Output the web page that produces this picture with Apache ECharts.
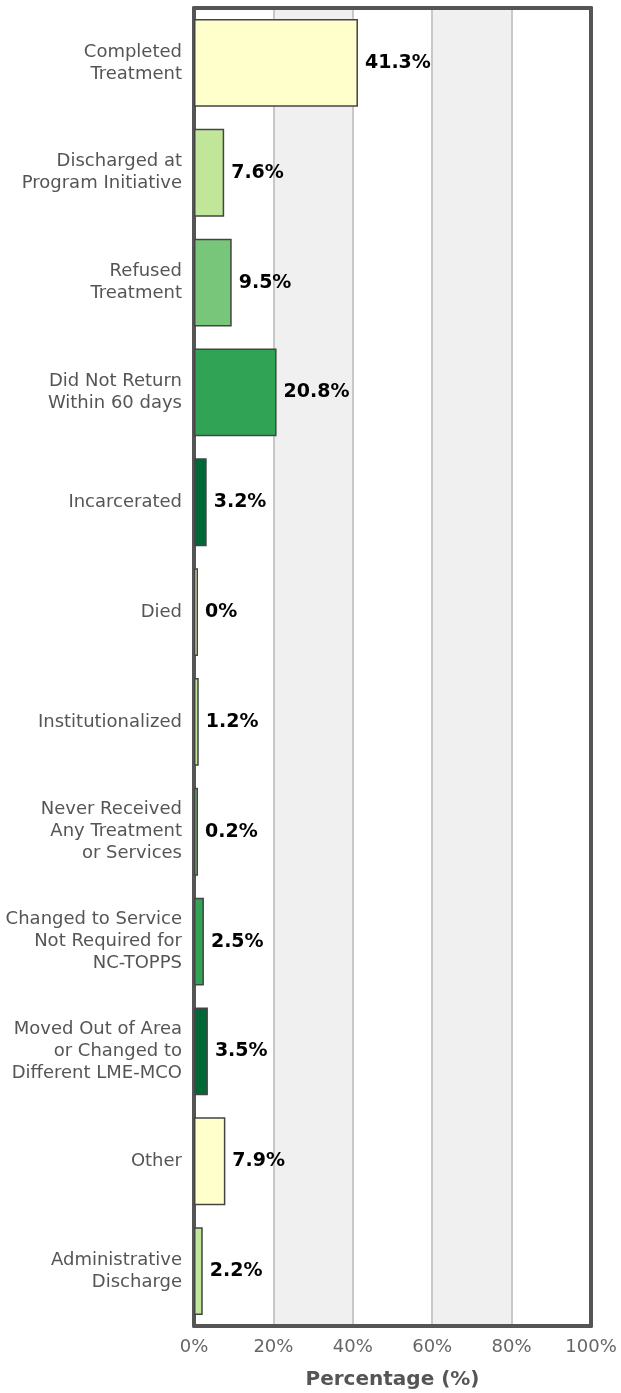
<!DOCTYPE html>
<html>
<head>
    <meta charset="utf-8">
    <title>Discharge Reasons</title>
    <script src="https://cdn.jsdelivr.net/npm/echarts@6/dist/echarts.min.js"></script>
    <style>
        body, html { margin: 0; padding: 0; background: #fff; }
        #main { width: 621px; height: 1393px; }
    </style>
</head>
<body>
    <div id="main"></div>
    <script>
        var categories = [
            'Completed\nTreatment',
            'Discharged at\nProgram Initiative',
            'Refused\nTreatment',
            'Did Not Return\nWithin 60 days',
            'Incarcerated',
            'Died',
            'Institutionalized',
            'Never Received\nAny Treatment\nor Services',
            'Changed to Service\nNot Required for\nNC-TOPPS',
            'Moved Out of Area\nor Changed to\nDifferent LME-MCO',
            'Other',
            'Administrative\nDischarge'
        ];
        var percentages = [41.3, 7.6, 9.5, 20.8, 3.2, 0, 1.2, 0.2, 2.5, 3.5, 7.9, 2.2];
        var palette = ['#ffffcc', '#c2e699', '#78c679', '#31a354', '#006837'];

        var chart = echarts.init(document.getElementById('main'));

        // thick frame round the plot, drawn with the four axis lines
        var frame = { show: true, onZero: false, lineStyle: { color: '#555', width: 4 } };

        var option = {
            animation: false,
            backgroundColor: '#fff',
            textStyle: { fontFamily: 'DejaVu Sans' },
            grid: { left: 194, right: 30, top: 8, bottom: 67, containLabel: false, outerBoundsMode: 'none' },
            xAxis: [{
                type: 'value',
                min: 0, max: 100, interval: 20,
                axisLine: frame,
                axisTick: { show: false },
                axisLabel: {
                    formatter: '{value}%',
                    color: '#666',
                    fontSize: 18,
                    margin: 12
                },
                splitLine: { show: true, lineStyle: { color: '#c8c8c8', width: 2 } },
                splitArea: { show: true, areaStyle: { color: ['#ffffff', '#f0f0f0'] } },
                name: 'Percentage (%)',
                nameLocation: 'middle',
                nameGap: 44,
                nameTextStyle: { color: '#555', fontSize: 20, fontWeight: 'bold' }
            }, {
                type: 'value',
                position: 'top',
                min: 0, max: 100,
                axisLine: frame,
                axisTick: { show: false },
                axisLabel: { show: false },
                splitLine: { show: false }
            }],
            yAxis: [{
                type: 'category',
                inverse: true,
                data: categories,
                axisLine: frame,
                axisTick: { show: false },
                axisLabel: {
                    color: '#555',
                    fontSize: 18,
                    lineHeight: 22,
                    margin: 12,
                    align: 'right'
                }
            }, {
                type: 'category',
                position: 'right',
                inverse: true,
                data: categories,
                axisLine: frame,
                axisTick: { show: false },
                axisLabel: { show: false }
            }],
            series: [{
                type: 'bar',
                barWidth: '80%',
                barMinHeight: 4,
                z: 1,
                data: percentages.map(function (v, i) {
                    return {
                        value: v,
                        itemStyle: { color: palette[i % palette.length] }
                    };
                }),
                itemStyle: { borderColor: '#444', borderWidth: 1.5 },
                label: {
                    show: true,
                    position: 'right',
                    distance: 7,
                    formatter: '{c}%',
                    color: '#000',
                    fontSize: 19,
                    fontWeight: 'bold'
                }
            }]
        };

        chart.setOption(option);
    </script>
</body>
</html>
